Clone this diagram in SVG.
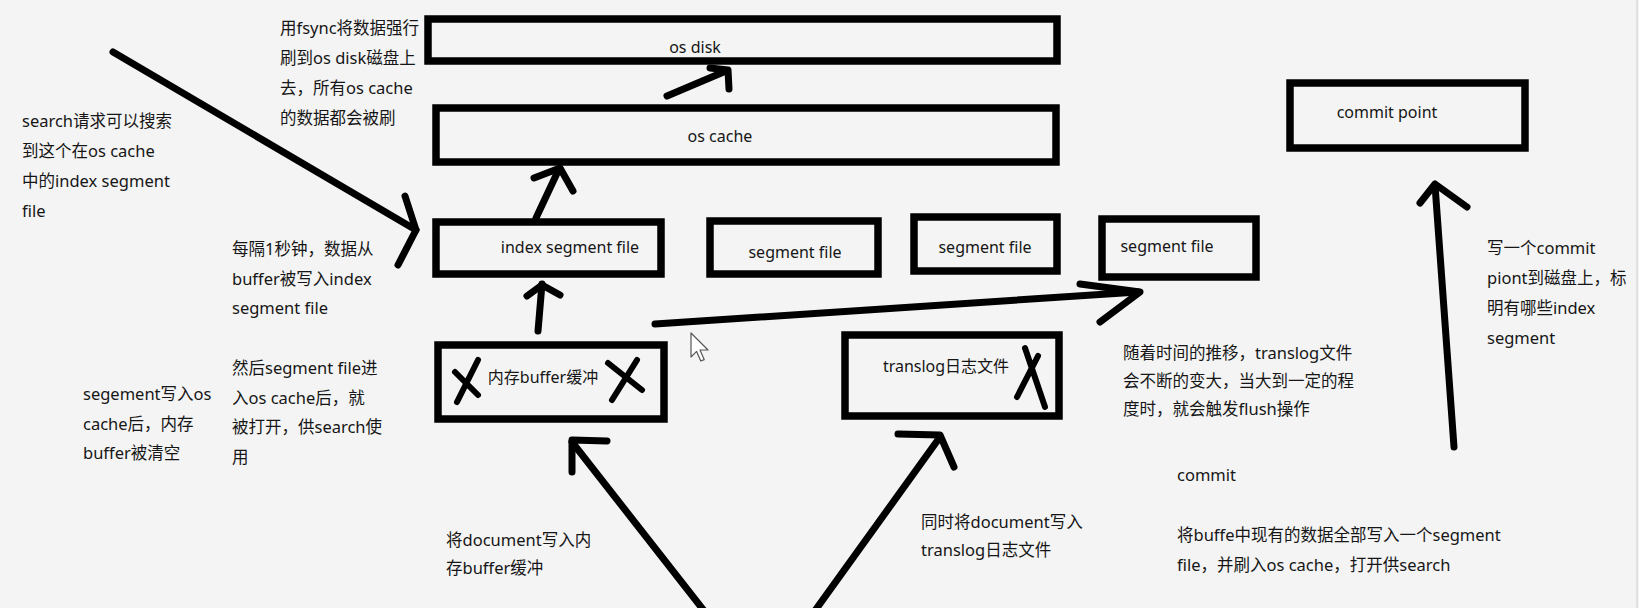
<svg xmlns="http://www.w3.org/2000/svg" width="1639" height="608" viewBox="0 0 1639 608">
  <style>
    .box { fill: none; stroke: #000; stroke-width: 7.5; }
    .pen { fill: none; stroke: #000; stroke-width: 7; stroke-linecap: round; stroke-linejoin: round; }
    .mark { fill: none; stroke: #000; stroke-width: 6; stroke-linecap: round; }
    text { font-family: "Noto Sans", "Noto Sans CJK SC", sans-serif; font-size: 16px; fill: #161616; }
    .mid { text-anchor: middle; }
    #notes text { font-size: 16.5px; }
  </style>

  <rect x="0" y="0" width="1639" height="608" fill="#f4f4f4"/>
  <line x1="1637" y1="0" x2="1637" y2="608" stroke="#dcdcdc" stroke-width="1.5"/>

  <!-- storage layers -->
  <g id="os-disk">
    <rect class="box" x="428" y="19" width="629" height="42"/>
    <text class="mid" x="695" y="53">os disk</text>
  </g>
  <g id="os-cache">
    <rect class="box" x="436" y="108" width="620" height="54"/>
    <text class="mid" x="720" y="142">os cache</text>
  </g>

  <!-- segment files -->
  <g id="index-segment-file">
    <rect class="box" x="436" y="222" width="225" height="52"/>
    <text class="mid" x="570" y="253">index segment file</text>
  </g>
  <g id="segment-file-2">
    <rect class="box" x="710" y="221" width="168" height="53"/>
    <text class="mid" x="795" y="258">segment file</text>
  </g>
  <g id="segment-file-3">
    <rect class="box" x="914" y="217" width="143" height="54"/>
    <text class="mid" x="985" y="253">segment file</text>
  </g>
  <g id="segment-file-4">
    <rect class="box" x="1102" y="219" width="154" height="58"/>
    <text class="mid" x="1167" y="252">segment file</text>
  </g>

  <g id="commit-point">
    <rect class="box" x="1290" y="83" width="235" height="65"/>
    <text class="mid" x="1387" y="118">commit point</text>
  </g>

  <!-- in-memory buffer, crossed out (cleared) -->
  <g id="memory-buffer">
    <rect class="box" x="438" y="345" width="226" height="74"/>
    <text class="mid" x="543" y="383">内存buffer缓冲</text>
    <path class="mark" d="M478 360 L457 402 M455 372 L478 395"/>
    <path class="mark" d="M637 360 L612 400 M608 363 L642 390"/>
  </g>

  <!-- translog, crossed out -->
  <g id="translog">
    <rect class="box" x="845" y="335" width="214" height="81"/>
    <text class="mid" x="946" y="372">translog日志文件</text>
    <path class="mark" d="M1025 348 L1045 407 M1038 356 L1017 397"/>
  </g>

  <!-- hand-drawn arrows -->
  <g id="connectors">
    <!-- search request into index segment file -->
    <path class="pen" d="M113 52 L416 230"/>
    <path class="pen" d="M405 196 L416 230 L398 265"/>
    <!-- buffer -> index segment file -->
    <path class="pen" d="M538 331 L542 284"/>
    <path class="pen" d="M527 296 L542 285 L560 295"/>
    <!-- index segment file -> os cache -->
    <path class="pen" d="M536 218 L559 169"/>
    <path class="pen" d="M534 178 L560 168 L573 191"/>
    <!-- os cache -> os disk (fsync) -->
    <path class="pen" d="M667 96 L726 71"/>
    <path class="pen" d="M710 68 L728 70 L729 89"/>
    <!-- flush towards new segment file -->
    <path class="pen" d="M655 324 L1138 292"/>
    <path class="pen" d="M1080 284 L1140 292 L1100 322"/>
    <!-- document into buffer -->
    <path class="pen" d="M705 612 L572 442"/>
    <path class="pen" d="M607 441 L572 440 L572 472"/>
    <!-- document into translog -->
    <path class="pen" d="M814 612 L940 437"/>
    <path class="pen" d="M898 434 L940 435 L954 467"/>
    <!-- commit point write -->
    <path class="pen" d="M1454 447 L1435 185"/>
    <path class="pen" d="M1420 203 L1435 184 L1467 207"/>
  </g>

  <!-- mouse pointer -->
  <path d="M691 333 L691 357 L696.6 351.4 L700.8 361 L704.2 359.6 L700 350 L708 350 Z" fill="#fff" stroke="#555" stroke-width="1.2" stroke-linejoin="round"/>

  <!-- annotations -->
  <g id="notes">
    <text x="280" y="34">用fsync将数据强行</text>
    <text x="280" y="64">刷到os disk磁盘上</text>
    <text x="280" y="94">去，所有os cache</text>
    <text x="280" y="124">的数据都会被刷</text>

    <text x="22" y="127">search请求可以搜索</text>
    <text x="22" y="157">到这个在os cache</text>
    <text x="22" y="187">中的index segment</text>
    <text x="22" y="217">file</text>

    <text x="232" y="255">每隔1秒钟，数据从</text>
    <text x="232" y="285">buffer被写入index</text>
    <text x="232" y="314">segment file</text>

    <text x="232" y="374">然后segment file进</text>
    <text x="232" y="404">入os cache后，就</text>
    <text x="232" y="433">被打开，供search使</text>
    <text x="232" y="463">用</text>

    <text x="83" y="400">segement写入os</text>
    <text x="83" y="430">cache后，内存</text>
    <text x="83" y="459">buffer被清空</text>

    <text x="1123" y="359">随着时间的推移，translog文件</text>
    <text x="1123" y="387">会不断的变大，当大到一定的程</text>
    <text x="1123" y="415">度时，就会触发flush操作</text>

    <text x="1487" y="254">写一个commit</text>
    <text x="1487" y="284">piont到磁盘上，标</text>
    <text x="1487" y="314">明有哪些index</text>
    <text x="1487" y="344">segment</text>

    <text x="1177" y="481">commit</text>
    <text x="1177" y="541">将buffe中现有的数据全部写入一个segment</text>
    <text x="1177" y="571">file，并刷入os cache，打开供search</text>

    <text x="921" y="528">同时将document写入</text>
    <text x="921" y="556">translog日志文件</text>

    <text x="446" y="546">将document写入内</text>
    <text x="446" y="574">存buffer缓冲</text>
  </g>
</svg>
